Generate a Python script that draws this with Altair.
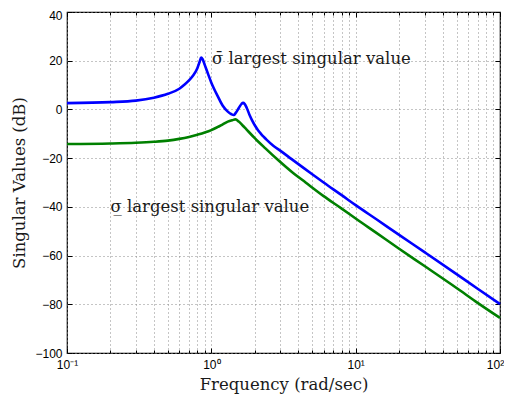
import altair as alt
import pandas as pd

# ---- data ----
freq_max = [0.1, 0.2, 0.3, 0.4, 0.5, 0.6, 0.65, 0.7, 0.75, 0.8, 0.83, 0.85, 0.87, 0.9, 0.95,
            1.0, 1.05, 1.1, 1.2, 1.3, 1.38, 1.43, 1.48, 1.55, 1.62, 1.66, 1.7, 1.76, 1.85,
            1.92, 2.0, 2.1, 2.2, 2.3, 2.4, 2.7, 3.0, 3.6, 4.4, 5.0, 6.0, 8.0, 10, 14, 20,
            30, 50, 70, 100]
db_max = [2.6, 3.0, 3.6, 4.8, 6.4, 8.5, 10.1, 11.9, 14.0, 16.9, 19.6, 21.3, 20.6, 18.3, 14.5,
          11.0, 8.2, 5.8, 1.5, -0.9, -2.0, -2.3, -1.3, 0.6, 2.3, 2.7, 2.3, 0.6, -2.6,
          -4.6, -6.5, -8.4, -9.9, -11.2, -12.3, -15.0, -16.9, -20.4, -24.2, -26.6, -30.0,
          -35.2, -39.3, -45.2, -51.5, -58.6, -67.6, -73.6, -79.9]

freq_min = [0.1, 0.2, 0.3, 0.4, 0.5, 0.6, 0.7, 0.8, 0.9, 1.0, 1.1, 1.2, 1.3, 1.4, 1.47,
            1.55, 1.65, 1.75, 2.0, 2.37, 2.9, 3.6, 4.5, 6.0, 8.0, 10, 14, 20, 30, 50, 70, 100]
db_min = [-14.2, -14.0, -13.7, -13.3, -12.8, -12.1, -11.3, -10.4, -9.5, -8.5, -7.3, -6.1,
          -5.0, -4.4, -4.1, -5.0, -6.6, -8.2, -11.8, -16.0, -20.8, -25.6, -30.0, -35.6,
          -40.7, -44.8, -50.8, -57.2, -64.3, -73.3, -79.4, -85.6]

ann_text = ["σ̄ largest singular value", "σ̲ largest singular value"]
ann_freq = [1.01, 0.2]
ann_db = [20.8, -40.2]

x_major = [0.1, 1, 10, 100]
x_minor = [0.2, 0.3, 0.4, 0.5, 0.6, 0.7, 0.8, 0.9,
           2, 3, 4, 5, 6, 7, 8, 9,
           20, 30, 40, 50, 60, 70, 80, 90]
y_major = [-100, -80, -60, -40, -20, 0, 20, 40]

df = pd.DataFrame({
    "freq": freq_max + freq_min,
    "db": db_max + db_min,
    "series": ["max"] * len(freq_max) + ["min"] * len(freq_min),
})
ann = pd.DataFrame({"freq": ann_freq, "db": ann_db, "text": ann_text})

xscale = alt.Scale(type="log", domain=[0.1, 100], nice=False)
yscale = alt.Scale(domain=[-100, 40], nice=False, zero=False)

label_expr = ("datum.value == 0.1 ? '10⁻¹' : datum.value == 1 ? '10⁰' : "
              "datum.value == 10 ? '10¹' : datum.value == 100 ? '10²' : ''")

base = alt.Chart(df)

lines = base.mark_line(strokeWidth=2.6, interpolate="monotone").encode(
    x=alt.X("freq:Q", scale=xscale,
            axis=alt.Axis(orient="bottom", values=x_major + x_minor, labelExpr=label_expr,
                          grid=True, ticks=False, domain=False, labelFlush=False,
                          labelOverlap=False, labelPadding=6, titlePadding=6,
                          labelOffset={"condition": {"test": "datum.value == 100", "value": -5},
                                       "value": 0},
                          title="Frequency (rad/sec)")),
    y=alt.Y("db:Q", scale=yscale,
            axis=alt.Axis(orient="left", values=y_major, grid=True, ticks=False,
                          domain=False, labelPadding=5, titlePadding=7,
                          labelOffset={"condition": {"test": "datum.value == 40", "value": 3},
                                       "value": 0},
                          title="Singular Values (dB)")),
    color=alt.Color("series:N", scale=alt.Scale(domain=["max", "min"],
                                                range=["#0000ff", "#008000"]), legend=None),
)


def tick_layer(xorient, xvals, xsize, yorient=None, ysize=5):
    xax = alt.Axis(orient=xorient, values=xvals, offset=-xsize, tickSize=xsize, labels=False,
                   domain=False, grid=False, title=None, ticks=True)
    if yorient is None:
        yenc = alt.Y("db:Q", scale=yscale, axis=None)
    else:
        yenc = alt.Y("db:Q", scale=yscale,
                     axis=alt.Axis(orient=yorient, values=y_major, offset=-ysize, tickSize=ysize,
                                   labels=False, domain=False, grid=False, title=None, ticks=True))
    return base.mark_point(opacity=0).encode(
        x=alt.X("freq:Q", scale=xscale, axis=xax), y=yenc)


t1 = tick_layer("bottom", x_major, 5, "left", 5)
t2 = tick_layer("top", x_major, 5, "right", 5)
t3 = tick_layer("bottom", x_minor, 3)
t4 = tick_layer("top", x_minor, 3)

labels = alt.Chart(ann).mark_text(align="left", baseline="middle", font="DejaVu Serif",
                                  fontSize=16.5, color="#1a1a1a").encode(
    x=alt.X("freq:Q", scale=xscale, axis=None),
    y=alt.Y("db:Q", scale=yscale, axis=None),
    text="text:N",
)

chart = alt.layer(lines, t1, t2, t3, t4, labels).resolve_axis(
    x="independent", y="independent"
).properties(
    width=433, height=341,
    autosize=alt.AutoSizeParams(type="none"),
    padding={"left": 59, "top": 4, "right": 4, "bottom": 45},
).configure_axis(
    labelFont="Liberation Sans", labelFontSize=12, labelColor="black",
    titleFont="DejaVu Serif", titleFontSize=16.5, titleColor="#1a1a1a", titleFontWeight="normal",
    gridColor="#8a8a8a", gridDash=[1, 3], gridOpacity=1, gridWidth=1,
    tickColor="black", tickWidth=1,
).configure_view(stroke="black", strokeWidth=1.2)

chart.save("out.html", embed_options={"renderer": "svg", "actions": False})
